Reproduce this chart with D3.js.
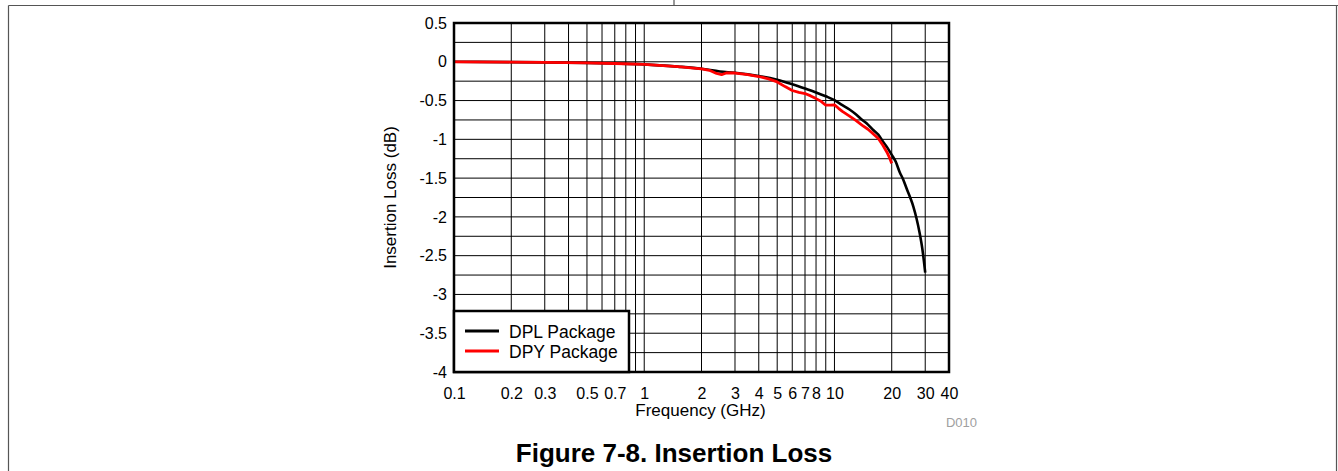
<!DOCTYPE html>
<html>
<head>
<meta charset="utf-8">
<script src="https://cdn.jsdelivr.net/npm/d3@7"></script>
<style>
  html, body { margin: 0; padding: 0; background: #fff; }
  svg { display: block; font-family: "Liberation Sans", Arial, Helvetica, sans-serif; }
</style>
</head>
<body>
<svg id="chart" width="1338" height="471"></svg>
<script>
// Frequency points (GHz) and insertion loss (dB) for each package
const dplFreq = [0.1, 0.2, 0.3, 0.5, 0.7, 1, 1.5, 2, 2.5, 3, 3.5, 4, 5, 6, 7, 8, 9, 10,
                 11, 12, 13, 14, 15, 16, 17, 18, 19, 20, 21, 22, 23, 24, 25, 26, 27, 28, 29, 30];
const dplLoss = [0, -0.004, -0.008, -0.015, -0.022, -0.033, -0.062, -0.09, -0.125, -0.142, -0.162, -0.183,
                 -0.232, -0.29, -0.345, -0.395, -0.445, -0.495, -0.56, -0.615, -0.68, -0.75, -0.81, -0.88,
                 -0.94, -1.03, -1.11, -1.2, -1.29, -1.42, -1.52, -1.64, -1.75, -1.87, -2.02, -2.2, -2.42, -2.72];

const dpyFreq = [0.1, 0.2, 0.3, 0.5, 0.7, 1, 1.5, 2, 2.2, 2.4, 2.55, 2.7, 3, 3.5, 4, 4.5, 5, 5.5, 6, 6.5,
                 7, 7.5, 8, 8.5, 9, 9.5, 10, 10.5, 11, 12, 13, 14, 15, 16, 17, 18, 19, 19.5, 20];
const dpyLoss = [0, -0.004, -0.008, -0.015, -0.022, -0.034, -0.063, -0.092, -0.11, -0.15, -0.165, -0.145,
                 -0.145, -0.165, -0.19, -0.22, -0.26, -0.32, -0.37, -0.395, -0.41, -0.44, -0.475, -0.51,
                 -0.56, -0.56, -0.555, -0.6, -0.64, -0.70, -0.76, -0.82, -0.87, -0.93, -0.99, -1.08,
                 -1.18, -1.24, -1.31];

// Axis ticks
const xTickValues = [0.1, 0.2, 0.3, 0.5, 0.7, 1, 2, 3, 4, 5, 6, 7, 8, 10, 20, 30, 40];
const xTickLabels = ["0.1", "0.2", "0.3", "0.5", "0.7", "1", "2", "3", "4", "5", "6", "7", "8", "10", "20", "30", "40"];
const xGridValues = [0.1, 0.2, 0.3, 0.4, 0.5, 0.6, 0.7, 0.8, 0.9, 1, 2, 3, 4, 5, 6, 7, 8, 9, 10, 20, 30, 40];
const yTickValues = [0.5, 0, -0.5, -1, -1.5, -2, -2.5, -3, -3.5, -4];
const yTickLabels = ["0.5", "0", "-0.5", "-1", "-1.5", "-2", "-2.5", "-3", "-3.5", "-4"];
const yGridValues = d3.range(0, 19).map(i => 0.5 - i * 0.25);

const seriesNames = ["DPL Package", "DPY Package"];
const seriesColors = ["#000000", "#ff0000"];

const svg = d3.select("#chart");

// Page frame lines
const frame = svg.append("g").attr("stroke", "#555").attr("stroke-width", 1.2).attr("fill", "none");
frame.append("line").attr("x1", 8.5).attr("x2", 1338).attr("y1", 5.5).attr("y2", 5.5);
frame.append("line").attr("x1", 674).attr("x2", 674).attr("y1", 0).attr("y2", 5.5);
frame.append("line").attr("x1", 8.5).attr("x2", 8.5).attr("y1", 5.5).attr("y2", 471);
frame.append("line").attr("x1", 1336.5).attr("x2", 1336.5).attr("y1", 5.5).attr("y2", 471);

const plot = { left: 454, right: 949, top: 23, bottom: 372 };

const x = d3.scaleLog().domain([0.1, 40]).range([plot.left, plot.right]);
const y = d3.scaleLinear().domain([-4, 0.5]).range([plot.bottom, plot.top]);

// Grid
const grid = svg.append("g").attr("stroke", "#000").attr("stroke-width", 1);
grid.selectAll("line.v").data(xGridValues).join("line")
  .attr("class", "v")
  .attr("x1", d => x(d)).attr("x2", d => x(d))
  .attr("y1", plot.top).attr("y2", plot.bottom);
grid.selectAll("line.h").data(yGridValues).join("line")
  .attr("class", "h")
  .attr("x1", plot.left).attr("x2", plot.right)
  .attr("y1", d => y(d)).attr("y2", d => y(d));

// Axes (labels only)
const xAxis = d3.axisBottom(x).tickValues(xTickValues)
  .tickFormat((d, i) => xTickLabels[i]).tickSize(0).tickPadding(16);
const gx = svg.append("g").attr("transform", `translate(0,${plot.bottom})`).call(xAxis);
gx.select(".domain").remove();
gx.selectAll("text").attr("font-size", 16).attr("fill", "#000")
  .attr("font-family", "'Liberation Sans', Arial, sans-serif");

const yAxis = d3.axisLeft(y).tickValues(yTickValues)
  .tickFormat((d, i) => yTickLabels[i]).tickSize(0).tickPadding(7);
const gy = svg.append("g").attr("transform", `translate(${plot.left},0)`).call(yAxis);
gy.select(".domain").remove();
gy.selectAll("text").attr("font-size", 16).attr("fill", "#000")
  .attr("font-family", "'Liberation Sans', Arial, sans-serif");

// Curves
const dplData = dplFreq.map((f, i) => [f, dplLoss[i]]);
const dpyData = dpyFreq.map((f, i) => [f, dpyLoss[i]]);

svg.append("path").datum(dplData)
  .attr("d", d3.line().x(d => x(d[0])).y(d => y(d[1])).curve(d3.curveMonotoneX))
  .attr("fill", "none").attr("stroke", seriesColors[0]).attr("stroke-width", 2.6)
  .attr("stroke-linejoin", "round");
svg.append("path").datum(dpyData)
  .attr("d", d3.line().x(d => x(d[0])).y(d => y(d[1])))
  .attr("fill", "none").attr("stroke", seriesColors[1]).attr("stroke-width", 2.8)
  .attr("stroke-linejoin", "round");

// Plot border
svg.append("rect")
  .attr("x", plot.left).attr("y", plot.top)
  .attr("width", plot.right - plot.left).attr("height", plot.bottom - plot.top)
  .attr("fill", "none").attr("stroke", "#000").attr("stroke-width", 2.5);

// Legend
const legend = svg.append("g");
legend.append("rect")
  .attr("x", plot.left).attr("y", 311)
  .attr("width", 629 - plot.left).attr("height", plot.bottom - 311)
  .attr("fill", "#fff").attr("stroke", "#000").attr("stroke-width", 2.5);
seriesNames.forEach((name, i) => {
  const cy = 331 + i * 20;
  legend.append("line").attr("x1", 465).attr("x2", 499).attr("y1", cy).attr("y2", cy)
    .attr("stroke", seriesColors[i]).attr("stroke-width", 2.8);
  legend.append("text").attr("x", 509).attr("y", cy + 6.5)
    .attr("font-size", 17.5).text(name);
});

// Axis titles
svg.append("text").attr("x", (plot.left + plot.right) / 2 - 1).attr("y", 416)
  .attr("text-anchor", "middle").attr("font-size", 17).text("Frequency (GHz)");
svg.append("text")
  .attr("transform", `translate(396,${(plot.top + plot.bottom) / 2}) rotate(-90)`)
  .attr("text-anchor", "middle").attr("font-size", 17).text("Insertion Loss (dB)");

// Figure id and caption
svg.append("text").attr("x", 977).attr("y", 427).attr("text-anchor", "end")
  .attr("font-size", 13).attr("fill", "#a0a0a0").text("D010");
svg.append("text").attr("x", 674).attr("y", 461.5).attr("text-anchor", "middle")
  .attr("font-size", 26).attr("font-weight", "bold").text("Figure 7-8. Insertion Loss");
</script>
</body>
</html>
